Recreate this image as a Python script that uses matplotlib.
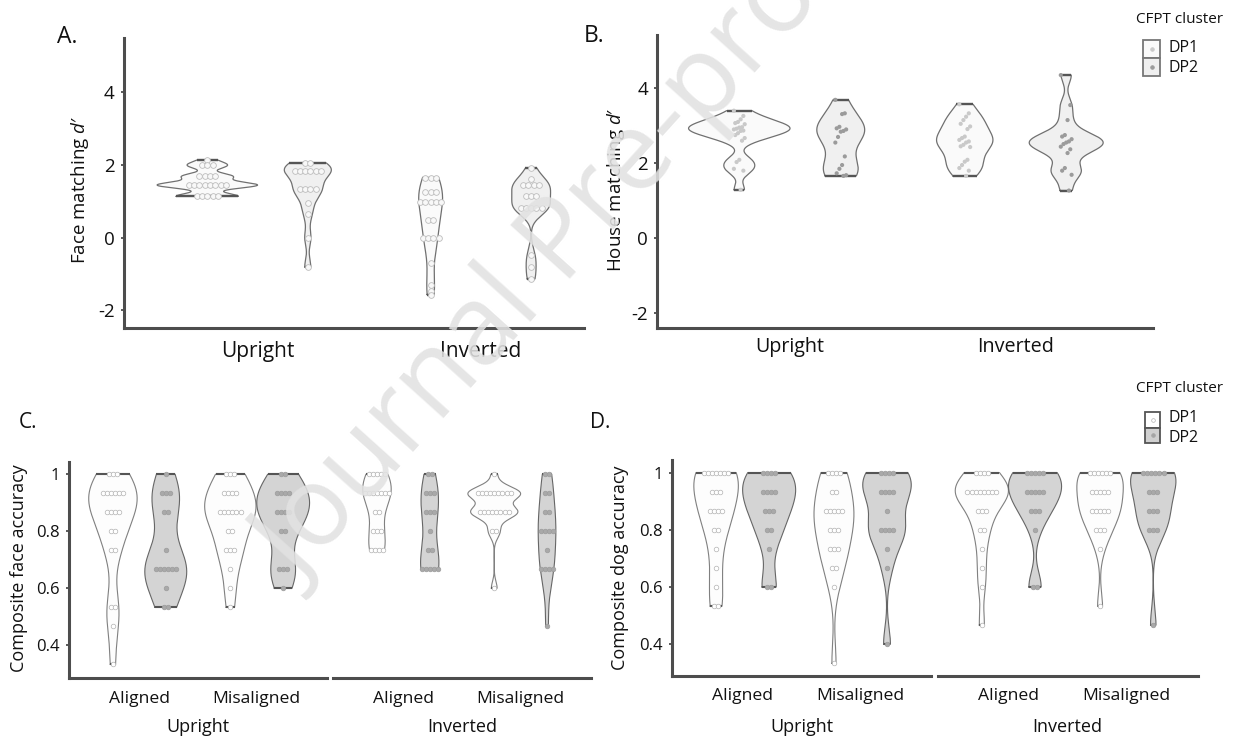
import numpy as np
import matplotlib
matplotlib.use("Agg")
import matplotlib.pyplot as plt
from matplotlib.patches import Rectangle

plt.rcParams['font.family'] = ['Open Sans', 'DejaVu Sans']
plt.rcParams['mathtext.fontset'] = 'custom'
plt.rcParams['mathtext.rm'] = 'Open Sans'
plt.rcParams['mathtext.it'] = 'Open Sans:italic'
plt.rcParams['axes.unicode_minus'] = False
plt.rcParams['text.color'] = '#111111'

# ---------------- data ----------------
clusters = ['DP1', 'DP2']
orientations = ['Upright', 'Inverted']
alignments = ['Aligned', 'Misaligned']

# A. face matching d' : dot rows (value, number of participants)
face_up_dp1_v = [2.14, 1.99, 1.69, 1.45, 1.14]
face_up_dp1_n = [1, 3, 4, 8, 5]
face_up_dp2_v = [2.06, 1.85, 1.34, 0.95, 0.65, 0.0, -0.80]
face_up_dp2_n = [2, 6, 4, 1, 1, 1, 1]
face_inv_dp1_v = [1.65, 1.27, 0.98, 0.48, 0.0, -0.68, -1.29, -1.45, -1.56]
face_inv_dp1_n = [3, 3, 5, 2, 4, 1, 1, 1, 1]
face_inv_dp2_v = [1.92, 1.62, 1.45, 1.16, 0.82, -0.47, -0.79, -1.13]
face_inv_dp2_n = [1, 1, 4, 3, 5, 1, 1, 1]

# B. house matching d' : individual scores
house_up_dp1 = [3.40, 3.26, 3.17, 3.10, 3.07, 3.04, 2.96, 2.95, 2.92, 2.90, 2.87,
                2.86, 2.80, 2.75, 2.67, 2.60, 2.09, 2.03, 1.85, 1.80, 1.29]
house_up_dp2 = [3.69, 3.33, 3.31, 2.97, 2.93, 2.90, 2.86, 2.84, 2.70, 2.55, 2.18,
                1.95, 1.85, 1.73, 1.68, 1.66]
house_inv_dp1 = [3.57, 3.33, 3.24, 3.15, 3.05, 2.98, 2.91, 2.71, 2.67, 2.62, 2.58,
                 2.55, 2.49, 2.45, 2.43, 2.09, 2.04, 1.95, 1.87, 1.80, 1.66]
house_inv_dp2 = [4.35, 3.55, 3.15, 2.75, 2.71, 2.64, 2.58, 2.55, 2.51, 2.44, 2.37,
                 2.27, 1.87, 1.80, 1.69, 1.27]

# C./D. composite accuracy: number of participants at each accuracy level
acc_levels = [1.0, 0.933, 0.867, 0.8, 0.733, 0.667, 0.6, 0.533, 0.467, 0.4, 0.333]

cf_up_al_dp1 = [3, 6, 4, 2, 2, 0, 0, 2, 1, 0, 1]
cf_up_al_dp2 = [1, 3, 2, 0, 1, 6, 1, 2, 0, 0, 0]
cf_up_mis_dp1 = [3, 4, 6, 2, 3, 1, 1, 1, 0, 0, 0]
cf_up_mis_dp2 = [2, 4, 4, 2, 0, 3, 1, 0, 0, 0, 0]
cf_inv_al_dp1 = [5, 7, 2, 3, 4, 0, 0, 0, 0, 0, 0]
cf_inv_al_dp2 = [2, 3, 3, 1, 2, 5, 0, 0, 0, 0, 0]
cf_inv_mis_dp1 = [1, 9, 8, 2, 0, 0, 1, 0, 0, 0, 0]
cf_inv_mis_dp2 = [2, 2, 2, 4, 1, 4, 0, 0, 1, 0, 0]

cd_up_al_dp1 = [7, 3, 4, 2, 1, 1, 1, 2, 0, 0, 0]
cd_up_al_dp2 = [4, 4, 3, 2, 1, 0, 2, 0, 0, 0, 0]
cd_up_mis_dp1 = [4, 2, 5, 3, 3, 2, 1, 0, 0, 0, 1]
cd_up_mis_dp2 = [4, 4, 1, 4, 1, 1, 0, 0, 0, 1, 0]
cd_inv_al_dp1 = [4, 8, 3, 2, 1, 1, 1, 0, 1, 0, 0]
cd_inv_al_dp2 = [5, 5, 3, 1, 0, 0, 2, 0, 0, 0, 0]
cd_inv_mis_dp1 = [6, 5, 5, 3, 1, 0, 0, 1, 0, 0, 0]
cd_inv_mis_dp2 = [6, 3, 3, 3, 0, 0, 0, 0, 1, 0, 0]

# ---------------- helpers ----------------
W, H = 1241, 740
fig = plt.figure(figsize=(W / 100, H / 100), dpi=100)
AX_COL = '#4d4d4d'
TXT = '#111111'
DODGE = 0.225


def px_axes(left, top, right, bottom):
    return fig.add_axes([left / W, 1 - bottom / H, (right - left) / W, (bottom - top) / H])


def ftext(x, y, s, **kw):
    return fig.text(x / W, 1 - y / H, s, **kw)


def kde(vals, n=300):
    v = np.asarray(vals, float)
    sd = v.std(ddof=1)
    q75, q25 = np.percentile(v, [75, 25])
    lo = min(sd, (q75 - q25) / 1.34)
    if lo <= 0:
        lo = sd
    bw = 0.9 * lo * len(v) ** -0.2
    y = np.linspace(v.min(), v.max(), n)
    d = np.exp(-0.5 * ((y[:, None] - v[None, :]) / bw) ** 2).sum(1)
    d /= len(v) * bw * np.sqrt(2 * np.pi)
    return y, d


def draw_violin(ax, x, y, hw, face, edge, lw=0.9):
    ax.fill_betweenx(y, x - hw, x + hw, facecolor=face, edgecolor='none', zorder=2)
    xs = np.concatenate([x - hw, (x + hw)[::-1], [x - hw[0]]])
    ys = np.concatenate([y, y[::-1], [y[0]]])
    ax.plot(xs, ys, color=edge, lw=lw, zorder=3, solid_joinstyle='round')
    for i in (0, -1):
        ax.plot([x - hw[i], x + hw[i]], [y[i], y[i]], color='#555555', lw=lw * 1.9,
                zorder=3, solid_capstyle='butt')


def draw_dots(ax, x, vals, counts, dx, **kw):
    for v, k in zip(vals, counts):
        if k == 0:
            continue
        xs = x + (np.arange(k) - (k - 1) / 2) * dx
        ax.scatter(xs, [v] * k, zorder=4, **kw)


def style_axes(ax, xlim, ylim, yticks=None, ylabels=None, ytick_size=12, show_y=True):
    ax.set_xlim(*xlim)
    ax.set_ylim(*ylim)
    ax.set_facecolor('none')
    for s in ('top', 'right'):
        ax.spines[s].set_visible(False)
    ax.spines['bottom'].set_color(AX_COL)
    ax.spines['bottom'].set_linewidth(2.2)
    if show_y:
        ax.spines['left'].set_color(AX_COL)
        ax.spines['left'].set_linewidth(2.2)
        ax.set_yticks(yticks)
        ax.set_yticklabels(ylabels)
        ax.tick_params(axis='y', length=2.5, width=1.3, color=AX_COL, pad=4,
                       labelsize=ytick_size, labelcolor=TXT)
    else:
        ax.spines['left'].set_visible(False)
        ax.set_yticks([])


def panel_widths(groups):
    dens = [kde(g) for g in groups]
    mx = max(d.max() for _, d in dens)
    return [(y, d / mx * DODGE) for y, d in dens]


# ---------------- panel A ----------------
axA = px_axes(123.6, 38.3, 583.6, 328.3)
style_axes(axA, (0.40, 2.46), (-2.49, 5.49), [-2, 0, 2, 4], ['-2', '0', '2', '4'], 13.5)
A_groups = [(face_up_dp1_v, face_up_dp1_n), (face_up_dp2_v, face_up_dp2_n),
            (face_inv_dp1_v, face_inv_dp1_n), (face_inv_dp2_v, face_inv_dp2_n)]
A_shapes = panel_widths([np.repeat(v, n) for v, n in A_groups])
A_x = [1 - DODGE, 1 + DODGE, 2 - DODGE, 2 + DODGE]
A_fill = ['#fafafa', '#f0f0f0', '#fafafa', '#f0f0f0']
dxA = 5.3 / (460 / 2.06)
for (v, n), (y, hw), x, fc in zip(A_groups, A_shapes, A_x, A_fill):
    draw_violin(axA, x, y, hw, fc, '#707070')
    draw_dots(axA, x, v, n, dxA, s=17, facecolor='#f8f8f8', edgecolor='#bdbdbd', linewidths=0.6)
axA.set_xticks([1, 2])
axA.set_xticklabels(orientations)
axA.tick_params(axis='x', length=0, pad=9, labelsize=15, labelcolor=TXT)
ftext(80.4, 190, "Face matching $d$\u2032", rotation=90, ha='center', va='center', fontsize=13.5)
ftext(57, 43, 'A.', fontsize=16.5, va='baseline', ha='left')

# ---------------- panel B ----------------
axB = px_axes(657, 35, 1153, 327.7)
style_axes(axB, (0.41, 2.61), (-2.39, 5.42), [-2, 0, 2, 4], ['-2', '0', '2', '4'], 13.5)
B_groups = [house_up_dp1, house_up_dp2, house_inv_dp1, house_inv_dp2]
B_shapes = panel_widths(B_groups)
B_pt = ['#c9c9c9', '#9b9b9b', '#c9c9c9', '#9b9b9b']
for g, (y, hw), x, fc, pc in zip(B_groups, B_shapes, A_x, A_fill, B_pt):
    draw_violin(axB, x, y, hw, fc, '#707070')
    idx = np.arange(len(g))
    jit = (((idx * 7) % 9) - 4) / 4 * 0.024
    axB.scatter(x + jit, g, s=9, color=pc, edgecolors='none', zorder=4)
axB.set_xticks([1, 2])
axB.set_xticklabels(orientations)
axB.tick_params(axis='x', length=0, pad=7, labelsize=14.2, labelcolor=TXT)
ftext(615.8, 189.5, "House matching $d$\u2032", rotation=90, ha='center', va='center',
      fontsize=13.5)
ftext(584, 42, 'B.', fontsize=16.5, va='baseline', ha='left')

# ---------------- panels C and D ----------------
acc_ticks = [0.4, 0.6, 0.8, 1.0]
acc_ticklabels = ['0.4', '0.6', '0.8', '1']
cd_fill = ['#fdfdfd', '#d4d4d4']
cd_edge = ['#808080', '#666666']


def facet_panel(boxes, ylim, groups, label, label_x, tag, tag_x):
    # groups: {orientation: [al_dp1, al_dp2, mis_dp1, mis_dp2]}
    for k, (ori, box) in enumerate(zip(orientations, boxes)):
        ax = px_axes(*box)
        style_axes(ax, (0.4, 2.6), ylim, acc_ticks, acc_ticklabels, 12, show_y=(k == 0))
        counts = groups[ori]
        shapes = panel_widths([np.repeat(acc_levels, c) for c in counts])
        dx = 4.1 / ((box[2] - box[0]) / 2.2)
        xs = [1 - DODGE, 1 + DODGE, 2 - DODGE, 2 + DODGE]
        for j, (c, (y, hw), x) in enumerate(zip(counts, shapes, xs)):
            draw_violin(ax, x, y, hw, cd_fill[j % 2], cd_edge[j % 2], lw=0.8)
            if j % 2 == 0:
                draw_dots(ax, x, acc_levels, c, dx, s=11, facecolor='white',
                          edgecolor='#b3b3b3', linewidths=0.5)
            else:
                draw_dots(ax, x, acc_levels, c, dx, s=11, facecolor='#a9a9a9',
                          edgecolor='#9d9d9d', linewidths=0.5)
        ax.set_xticks([1, 2])
        ax.set_xticklabels(alignments)
        ax.tick_params(axis='x', length=0, pad=9, labelsize=12.6, labelcolor=TXT)
        ftext((box[0] + box[2]) / 2, 727, ori, ha='center', va='center', fontsize=13)
    ftext(label_x, 568, label, rotation=90, ha='center', va='center', fontsize=13)
    ftext(tag_x, 428, tag, fontsize=15, va='baseline', ha='left')


facet_panel([(68.9, 461.7, 327.2, 678.3), (333, 461.7, 591, 678.3)], (0.284, 1.044),
            {'Upright': [cf_up_al_dp1, cf_up_al_dp2, cf_up_mis_dp1, cf_up_mis_dp2],
             'Inverted': [cf_inv_al_dp1, cf_inv_al_dp2, cf_inv_mis_dp1, cf_inv_mis_dp2]},
            'Composite face accuracy', 19.1, 'C.', 19)
facet_panel([(671.9, 460, 931.2, 676), (937.5, 460, 1197.6, 676)], (0.289, 1.044),
            {'Upright': [cd_up_al_dp1, cd_up_al_dp2, cd_up_mis_dp1, cd_up_mis_dp2],
             'Inverted': [cd_inv_al_dp1, cd_inv_al_dp2, cd_inv_mis_dp1, cd_inv_mis_dp2]},
            'Composite dog accuracy', 620, 'D.', 590)


# ---------------- legends ----------------
def legend(left, top, right, bottom, title_y, lab_ys, fills, dot_fc, dot_ec, edge):
    ftext(1136.5, title_y, 'CFPT cluster', fontsize=11, ha='left', va='center')
    lax = px_axes(left, top, right, bottom)
    lax.set_xlim(0, 1)
    lax.set_ylim(0, 2)
    lax.axis('off')
    for i in range(2):
        yb = 1 - i
        lax.add_patch(Rectangle((0, yb), 1, 1, facecolor=fills[i], edgecolor=edge, lw=1.3,
                                clip_on=False))
        lax.scatter([0.5], [yb + 0.5], s=7, facecolor=dot_fc[i], edgecolor=dot_ec[i],
                    linewidths=0.5, clip_on=False, zorder=3)
        ftext(1168, lab_ys[i], clusters[i], fontsize=11.5, ha='left', va='center')


legend(1143, 40, 1160, 76, 19.3, [48, 68], ['#fafafa', '#efefef'],
       ['#c9c9c9', '#9b9b9b'], ['#c9c9c9', '#9b9b9b'], '#777777')
legend(1145, 411.7, 1160, 443.3, 388, [417.7, 438.3], ['#ffffff', '#d0d0d0'],
       ['white', '#a5a5a5'], ['#b3b3b3', '#a5a5a5'], '#555555')

# ---------------- watermark ----------------
ftext(577, 236, 'Journal Pre-proof', rotation=48, fontsize=80, color='#e2e2e2', alpha=0.88,
      ha='center', va='center', rotation_mode='anchor', zorder=100)

fig.savefig('out.png', dpi=100)
